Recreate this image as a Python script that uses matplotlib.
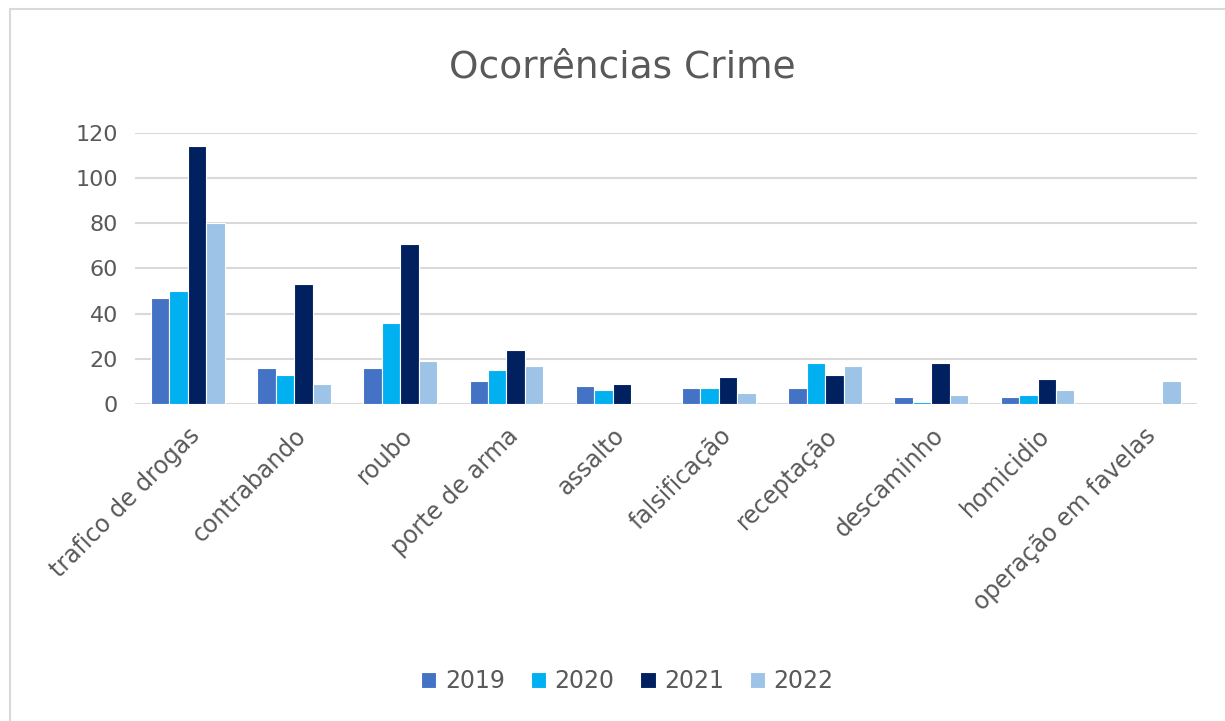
import numpy as np
import matplotlib
matplotlib.use('Agg')
import matplotlib.pyplot as plt
from matplotlib.patches import Rectangle

plt.rcParams['font.family'] = ['DejaVu Sans']

categories = ['trafico de drogas', 'contrabando', 'roubo', 'porte de arma', 'assalto',
              'falsificação', 'receptação', 'descaminho', 'homicidio', 'operação em favelas']
years = ['2019', '2020', '2021', '2022']
v2019 = [47, 16, 16, 10, 8, 7, 7, 3, 3, 0]
v2020 = [50, 13, 36, 15, 6, 7, 18, 1, 4, 0]
v2021 = [114, 53, 71, 24, 9, 12, 13, 18, 11, 0]
v2022 = [80, 9, 19, 17, 0, 5, 17, 4, 6, 10]
colors = ['#4472C4', '#00B0F0', '#002060', '#9DC3E6']

fig = plt.figure(figsize=(12.25, 7.21), dpi=100)
ax = fig.add_axes([0.110, 0.4397, 0.867, 0.376])

# border around the chart area
fig.patches.append(Rectangle((0.008, -0.01), 1.0, 0.997, transform=fig.transFigure,
                             fill=False, edgecolor='#D9D9D9', linewidth=1.5))

x = np.arange(len(categories))
w = 0.174
for i, (vals, c, yr) in enumerate(zip([v2019, v2020, v2021, v2022], colors, years)):
    bars = ax.bar(x + (i - 1.5) * w, vals, w, color=c, edgecolor='white', linewidth=0.8,
                  label=yr, zorder=3)
    # empty categories: no bar drawn over the gridline
    for b, v in zip(bars, vals):
        if v == 0:
            b.set_visible(False)

ax.set_xlim(-0.5, len(categories) - 0.5)
ax.set_ylim(0, 120)
ax.set_yticks(range(0, 121, 20))
ax.grid(axis='y', color='#D9D9D9', linewidth=1.5, zorder=0)
for s in ax.spines.values():
    s.set_visible(False)
ax.tick_params(length=0, labelsize=16, colors='#595959', pad=12)
ax.set_xticks(x)
ax.set_xticklabels(categories, rotation=45, ha='right', rotation_mode='anchor')
ax.tick_params(axis='x', labelsize=17, pad=14)

fig.text(0.508, 0.906, 'Ocorrências Crime', ha='center', va='center',
         fontsize=27, color='#595959')

leg = ax.legend(loc='center', bbox_to_anchor=(0.512, 0.055), bbox_transform=fig.transFigure,
                ncol=4, frameon=False, fontsize=17, handlelength=0.65, handleheight=0.65,
                handletextpad=0.35, columnspacing=1.1)
for t in leg.get_texts():
    t.set_color('#595959')

fig.savefig('out.png', dpi=100)
